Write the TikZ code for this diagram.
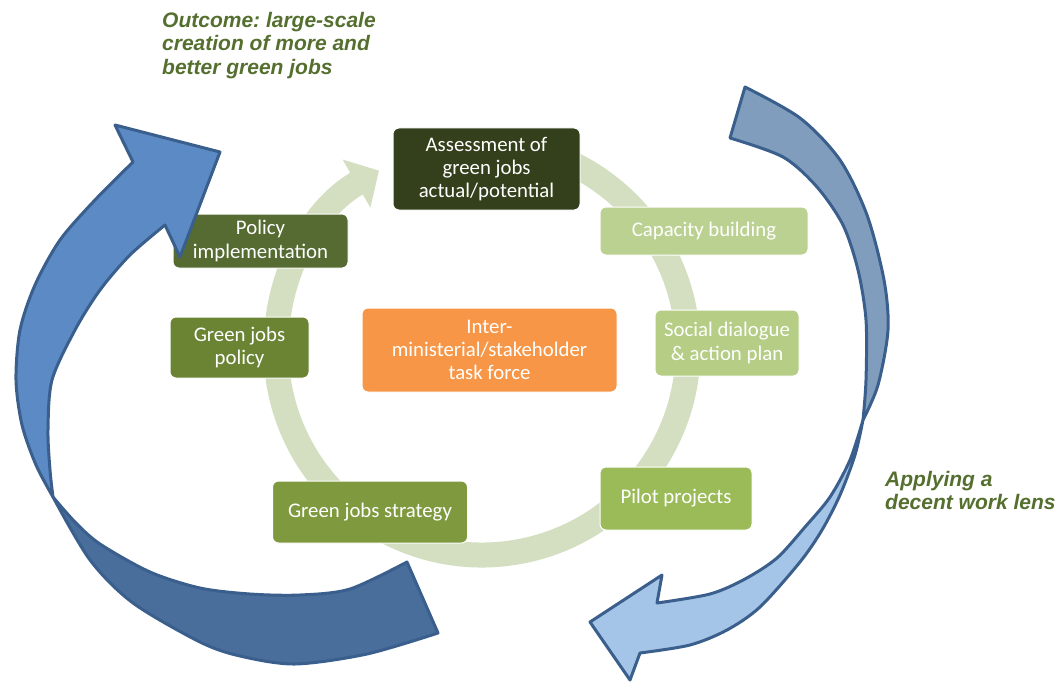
\documentclass[tikz,border=0pt]{standalone}
\usepackage{fontspec}
\setmainfont{Carlito}
\newfontfamily\labelfont{Liberation Sans}
\usetikzlibrary{arrows.meta}
\frenchspacing

\definecolor{assessgreen}{HTML}{343F1C}
\definecolor{implgreen}{HTML}{556B32}
\definecolor{policygreen}{HTML}{6A8434}
\definecolor{strategygreen}{HTML}{7F9A3E}
\definecolor{pilotgreen}{HTML}{9BBB59}
\definecolor{dialoguegreen}{HTML}{B5CD85}
\definecolor{capacitygreen}{HTML}{BBD191}
\definecolor{taskorange}{HTML}{F79646}
\definecolor{ringgreen}{HTML}{D3DFC0}
\definecolor{labelgreen}{HTML}{556F2F}
\definecolor{arrowline}{HTML}{3A5F8C}
\definecolor{leftfront}{HTML}{5B8AC4}
\definecolor{leftback}{HTML}{4A6E9B}
\definecolor{rightback}{HTML}{819DBD}
\definecolor{rightfront}{HTML}{A5C5E8}

\begin{document}
\begin{tikzpicture}
[x=1pt,y=-1pt,
box/.style={rectangle,rounded corners=6pt,draw=white,line width=1pt,text=white,align=center,inner sep=0pt,font=\fontsize{20.8}{23.3}\selectfont},
ring/.style={draw=ringgreen,line width=25pt,-{Triangle[length=26pt,width=54pt]}},
face/.style={draw=arrowline,line width=3pt,line join=round},
caption/.style={anchor=north west,inner sep=0pt,align=left,text=labelgreen,font=\labelfont\bfseries\itshape\fontsize{21}{23.5}\selectfont}]

\useasboundingbox (0,0) rectangle (1060,682);

\def\ringRadius{206}
\coordinate (hub) at (482,349);

% Drawing the cycle
\draw[ring] (hub) ++(-100:\ringRadius) arc[start angle=-100,end angle=240,radius=\ringRadius];

% Drawing steps
\node[box,fill=assessgreen,minimum width=187pt,minimum height=82pt] (assess) at (486.5,169) {Assessment of\\green jobs\\actual/potential};
\node[box,fill=capacitygreen,minimum width=208pt,minimum height=48pt] (capacity) at (704,231) {Capacity building};
\node[box,fill=dialoguegreen,minimum width=144pt,minimum height=66pt] (dialogue) at (727,343) {Social dialogue\\\& action plan};
\node[box,fill=pilotgreen,minimum width=152pt,minimum height=63pt] (pilot) at (676,498.5) {Pilot projects};
\node[box,fill=strategygreen,minimum width=195pt,minimum height=62pt] (strategy) at (370,512) {Green jobs strategy};
\node[box,fill=policygreen,minimum width=139pt,minimum height=61pt] (policy) at (239.5,347.5) {Green jobs\\policy};
\node[box,fill=implgreen,minimum width=175pt,minimum height=54pt] (implement) at (260.5,241) {Policy\\implementation};
\node[box,fill=taskorange,minimum width=255pt,minimum height=84pt] (taskforce) at (489.5,350) {Inter-\\ministerial/stakeholder\\task force};

% Drawing the outer arrows
\filldraw[face,fill=leftback] plot[smooth] coordinates {(53,497) (75,522) (100,544) (150,572) (200,588) (250,594) (300,595) (350,589) (407,562)}
  -- (438,633)
  -- plot[smooth] coordinates {(438,633) (367,654) (295,664) (240,656) (200,642) (133,603) (90,560) (53,497)} -- cycle;
\filldraw[face,fill=leftfront] plot[smooth] coordinates {(53,497) (36,465) (22,425) (16,380) (20,330) (35,285) (60,240) (95,200) (133,162)}
  -- (115,125) -- (220,152) -- (180,257)
  -- plot[smooth] coordinates {(165,225) (130,255) (100,290) (75,330) (52,380) (48,430) (50,470) (53,497)} -- cycle;

\filldraw[face,fill=rightback] plot[smooth] coordinates {(745,87) (800,118) (840,160) (867,215) (884,280) (888,330) (878,385) (863,420)}
  -- plot[smooth] coordinates {(863,420) (866,380) (866,320) (858,270) (843,225) (817,187) (783,157) (730,138)} -- cycle;
\filldraw[face,fill=rightfront] plot[smooth] coordinates {(863,420) (855,455) (840,495) (822,530) (800,562) (760,607) (727,630) (690,645) (640,653)}
  -- (630,680) -- (590,622) -- (662,575)
  -- plot[smooth] coordinates {(657,603) (710,594) (745,579) (777,558) (805,527) (830,497) (850,460) (863,420)} -- cycle;

% Drawing captions
\node[caption] (outcome) at (162,12) {Outcome: large-scale\\creation of more and\\better green jobs};
\node[caption] (lens) at (885,471) {Applying a\\decent work lens};
\end{tikzpicture}
\end{document}
